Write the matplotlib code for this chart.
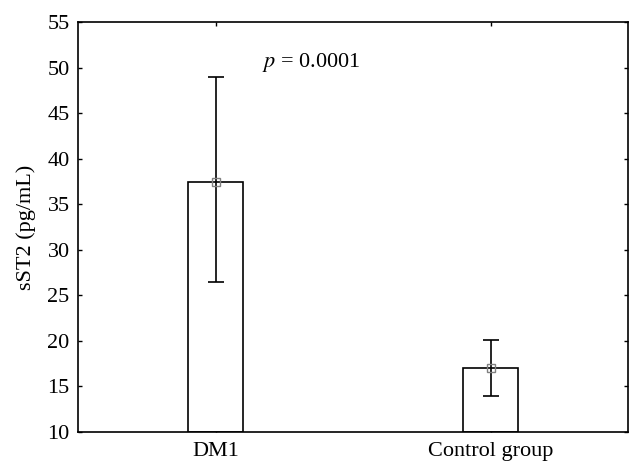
import matplotlib
matplotlib.use("Agg")
import matplotlib.pyplot as plt

# data
groups = ["DM1", "Control group"]
means = [37.4, 17.05]
err_low = [26.5, 13.95]
err_high = [49.0, 20.05]

plt.rcParams["font.family"] = ["Liberation Serif", "DejaVu Serif"]

fig = plt.figure(figsize=(6.43, 4.76), dpi=100)
ax = fig.add_axes([0.1213, 0.0924, 0.8554, 0.8614])

pos = list(range(len(groups)))
base = 10
heights = [m - base for m in means]
ax.bar(pos, heights, bottom=base, width=0.2, color="white",
       edgecolor="black", linewidth=1.2, zorder=2)

yerr = [[m - lo for m, lo in zip(means, err_low)],
        [hi - m for m, hi in zip(means, err_high)]]
ax.errorbar(pos, means, yerr=yerr, fmt="none", ecolor="black",
            elinewidth=1.2, capsize=6, capthick=1.2, zorder=3)
ax.plot(pos, means, "s", markersize=6, markerfacecolor="none",
        markeredgecolor="#808080", markeredgewidth=1.0, zorder=4)

ax.set_xlim(-0.5, 1.5)
ax.set_ylim(10, 55)
ax.set_yticks(range(10, 56, 5))
ax.set_xticks(pos)
ax.set_xticklabels(groups)
ax.tick_params(direction="in", top=True, right=True, length=3,
               width=1, labelsize=16)
ax.tick_params(axis="x", pad=7)
ax.tick_params(axis="y", pad=6)
for s in ax.spines.values():
    s.set_linewidth(1.2)

ax.set_ylabel("sST2 (pg/mL)", fontsize=16, labelpad=8)
ax.text(0.17, 50.6, r"$p$ = 0.0001", fontsize=16, va="center",
        ha="left", math_fontfamily="stix")

fig.savefig("out.png", dpi=100)
